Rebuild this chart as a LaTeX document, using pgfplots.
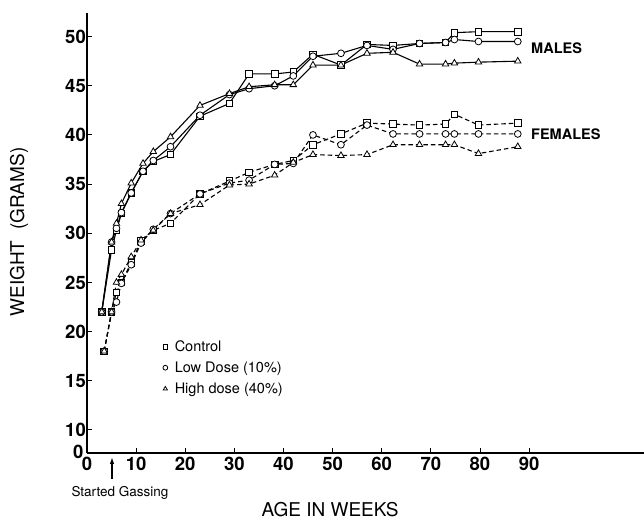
\documentclass[border=0pt]{standalone}
\usepackage{pgfplots}
\pgfplotsset{compat=1.18}
\usepackage{pgfplotstable}
\usepackage{fontspec}
\setmainfont{TeX Gyre Heros}
\usetikzlibrary{arrows.meta}
\pgfplotstableread{
w C L H
3 22 22 22
5 28.3 29.1 29.1
6 30.3 30.5 31.0
7 32.0 32.1 33.0
9 34.1 34.1 35.1
11.4 36.3 36.3 37.1
13.5 37.3 37.4 38.3
17 38.0 38.8 39.8
23 41.9 42.0 43.0
29 43.2 44.1 44.2
33 46.2 44.7 44.9
38.2 46.2 45.0 45.1
42 46.4 46.0 45.1
46 48.2 48.0 47.1
51.7 47.1 48.3 47.1
57 49.2 49.1 48.3
62.3 49.1 48.7 48.4
67.7 49.3 49.3 47.2
73 49.4 49.4 47.2
74.8 50.4 49.7 47.3
79.7 50.5 49.5 47.4
87.7 50.5 49.5 47.5
}\males
\pgfplotstableread{
w C L H
3.5 18 18 18
5 22 22 22
6 24.0 23.0 25.0
7 25.0 24.9 25.8
9 27.0 26.8 27.6
11 29.2 29.0 29.3
13.5 30.3 30.4 30.3
17 31.0 32.0 32.0
23 34.0 34.0 32.9
29 35.3 35.1 34.9
33 36.2 35.4 35.0
38.2 37.0 37.0 35.9
42 37.4 37.1 37.2
46 39.0 40.0 38.0
51.7 40.1 39.0 37.9
57 41.2 41.0 38.0
62.3 41.1 40.1 39.0
67.7 41.0 40.1 39.0
73 41.1 40.1 39.0
74.8 42.1 40.1 39.0
79.7 41.0 40.1 38.1
87.7 41.2 40.1 38.8
}\females
\begin{document}
\begin{tikzpicture}[x=1pt,y=1pt]
\begin{axis}[
 at={(87pt,68pt)}, anchor=south west,
 scale only axis, width=557pt, height=440pt,
 xmin=0, xmax=113.4, ymin=7.65, ymax=52.4,
 axis lines=left, axis line style={-, line width=1.1pt},
 xtick={0,10,...,90},
 ytick={7.65,10,15,20,25,30,35,40,45,50},
 yticklabels={\raisebox{2.5pt}{0}\kern2.5pt,10,15,20,25,30,35,40,45,50},
 tick align=inside, major tick length=5pt,
 tick style={line width=0.9pt, black},
 /pgf/number format/assume math mode=true,
 ticklabel style={font=\fontsize{18.5}{18.5}\selectfont\bfseries},
 xticklabel style={inner sep=1pt, yshift=-3pt},
 yticklabel style={inner sep=1pt},
 clip=false,
 every axis plot/.append style={black, line width=1.1pt, mark options={solid, fill=white, line width=0.8pt}},
 legend style={at={(0.136,0.261)}, anchor=north west, draw=none, fill=none,
   font=\fontsize{14.5}{14.5}\selectfont, row sep=5pt, column sep=5pt, inner sep=0pt},
 legend cell align=left,
 legend image code/.code={\draw[mark size=2.4pt, line width=0.6pt] plot coordinates {(0.1cm,0cm)};},
]
\addplot[mark=square*, mark size=3.3pt] table[x=w,y=C] {\males};
\addlegendentry{Control}
\addplot[mark=*, mark size=3.4pt] table[x=w,y=L] {\males};
\addlegendentry{Low Dose (10\%)}
\addplot[mark=triangle*, mark size=3.7pt] table[x=w,y=H] {\males};
\addlegendentry{High dose (40\%)}
\addplot[forget plot, dash pattern=on 4.5pt off 3pt, mark=square*, mark size=3.3pt] table[x=w,y=C] {\females};
\addplot[forget plot, dash pattern=on 4.5pt off 3pt, mark=*, mark size=3.4pt] table[x=w,y=L] {\females};
\addplot[forget plot, dash pattern=on 4.5pt off 3pt, mark=triangle*, mark size=3.7pt] table[x=w,y=H] {\females};
\end{axis}
\node[anchor=west, font=\fontsize{14.5}{14.5}\selectfont\bfseries, inner sep=0pt] at (531,473) {MALES};
\node[anchor=west, font=\fontsize{14.5}{14.5}\selectfont\bfseries, inner sep=0pt] at (531,386.5) {FEMALES};
\node[rotate=90, font=\fontsize{19}{19}\selectfont, inner sep=0pt] at (19,289) {WEIGHT\ \ (GRAMS)};
\node[font=\fontsize{19}{19}\selectfont, inner sep=0pt] at (330,11.5) {AGE IN WEEKS};
\node[font=\fontsize{13.5}{13.5}\selectfont, inner sep=0pt] at (120,28) {Started Gassing};
\draw[-{Latex[length=7pt,width=4.5pt]}, line width=1.3pt] (112,42) -- (112,64);
\pgfresetboundingbox
\path[use as bounding box] (0,0) rectangle (644,521);
\end{tikzpicture}
\end{document}
